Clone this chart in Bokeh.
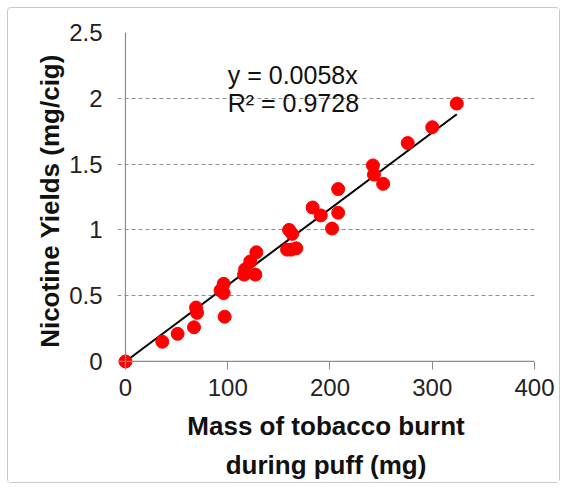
from bokeh.plotting import figure
from bokeh.models import Range1d, FixedTicker, Span, Label
from bokeh.embed import file_html
from bokeh.resources import INLINE

# ---- data ----
mass = [0, 36, 51, 67, 69, 70, 93, 96, 96, 97, 116, 117, 122, 127, 128,
        160, 163, 158, 162, 167, 183, 191, 202, 208, 208, 242, 243, 252,
        276, 300, 324]
nicotine = [0.00, 0.15, 0.21, 0.26, 0.41, 0.37, 0.54, 0.59, 0.52, 0.34,
            0.66, 0.70, 0.76, 0.66, 0.83, 1.00, 0.97, 0.85, 0.85, 0.86,
            1.17, 1.11, 1.01, 1.31, 1.13, 1.49, 1.42, 1.35, 1.66, 1.78, 1.96]
slope = 0.0058
eq_text = "y = 0.0058x"
r2_text = "R² = 0.9728"
x_ticks = [0, 100, 200, 300, 400]
y_ticks = [0, 0.5, 1, 1.5, 2, 2.5]
y_tick_labels = ["0", "0.5", "1", "1.5", "2", "2.5"]
x_title = "Mass of tobacco burnt\nduring puff (mg)"
y_title = "Nicotine Yields (mg/cig)"

FONT = "Liberation Sans"
AXIS_GREY = "#8c8c8c"

p = figure(width=553, height=476, output_backend="svg", toolbar_location=None,
           x_range=Range1d(-7.8, 400), y_range=Range1d(-0.061, 2.5),
           min_border_left=109, min_border_right=27, min_border_top=24,
           min_border_bottom=115)
p.outline_line_color = None
p.background_fill_color = "white"
p.border_fill_color = "white"
p.styles = {"border": "1px solid #c8c8c8", "border-radius": "4px",
            "margin-left": "7px", "margin-top": "7px"}

# grid
p.xgrid.grid_line_color = None
p.ygrid.ticker = FixedTicker(ticks=y_ticks[1:])
p.ygrid.grid_line_color = "#909090"
p.ygrid.grid_line_dash = "4 3"
p.ygrid.grid_line_width = 1

# axes lines at the origin
p.add_layout(Span(location=0, dimension="width", line_color=AXIS_GREY, line_width=1.2))
p.add_layout(Span(location=0, dimension="height", line_color=AXIS_GREY, line_width=1.2))

# x axis
xa = p.xaxis[0]
xa.ticker = FixedTicker(ticks=x_ticks)
xa.axis_line_color = None
xa.major_tick_in = 8
xa.major_tick_out = 0
xa.major_tick_line_color = AXIS_GREY
xa.minor_tick_line_color = None
xa.major_label_standoff = 9
xa.major_label_text_font = FONT
xa.major_label_text_font_size = "24px"
xa.major_label_text_color = "#222222"
xa.axis_label = x_title
xa.axis_label_text_font = FONT
xa.axis_label_text_font_style = "bold"
xa.axis_label_text_font_size = "26px"
xa.axis_label_text_color = "#111111"
xa.axis_label_text_line_height = 1.3
xa.axis_label_standoff = 12

# y axis
ya = p.yaxis[0]
ya.ticker = FixedTicker(ticks=y_ticks)
ya.major_label_overrides = {t: s for t, s in zip(y_ticks, y_tick_labels)}
ya.axis_line_color = None
ya.major_tick_line_color = None
ya.minor_tick_line_color = None
ya.major_tick_in = 0
ya.major_tick_out = 0
ya.major_label_standoff = 15
ya.major_label_text_font = FONT
ya.major_label_text_font_size = "24px"
ya.major_label_text_color = "#222222"
ya.axis_label = y_title
ya.axis_label_text_font = FONT
ya.axis_label_text_font_style = "bold"
ya.axis_label_text_font_size = "26px"
ya.axis_label_text_color = "#111111"
ya.axis_label_standoff = 1

# trend line
x_max = max(mass)
p.line([0, x_max], [0, slope * x_max], line_color="black", line_width=2)

# points
p.scatter(mass, nicotine, size=13, fill_color="#ff0000", line_color="#ff0000")

# equation labels
p.add_layout(Label(x=100, y=2.175, text=eq_text, text_font=FONT, text_font_size="25px",
                   text_baseline="middle", text_align="left", text_color="#111111"))
p.add_layout(Label(x=100, y=1.965, text=r2_text, text_font=FONT, text_font_size="25px",
                   text_baseline="middle", text_align="left", text_color="#111111"))

open("out.html", "w").write(file_html(p, INLINE))
